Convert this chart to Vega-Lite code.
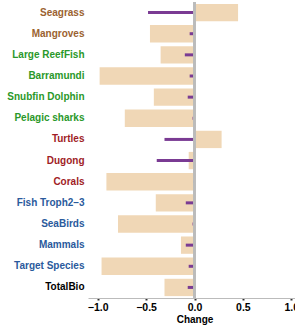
{
  "$schema": "https://vega.github.io/schema/vega-lite/v6.json",
  "autosize": "none",
  "width": 213,
  "height": 296,
  "padding": {"left": 88, "top": 2, "right": 0, "bottom": 29},
  "config": {
    "view": {"stroke": null},
    "font": "Liberation Sans",
    "axis": {"labelFont": "Liberation Sans", "titleFont": "Liberation Sans"}
  },
  "data": {
    "values": [
      {"item": "Seagrass", "change": 0.45, "other": -0.48},
      {"item": "Mangroves", "change": -0.46, "other": -0.05},
      {"item": "Large ReefFish", "change": -0.35, "other": -0.10},
      {"item": "Barramundi", "change": -0.98, "other": -0.05},
      {"item": "Snubfin Dolphin", "change": -0.42, "other": -0.07},
      {"item": "Pelagic sharks", "change": -0.72, "other": -0.02},
      {"item": "Turtles", "change": 0.28, "other": -0.31},
      {"item": "Dugong", "change": -0.06, "other": -0.39},
      {"item": "Corals", "change": -0.91, "other": -0.01},
      {"item": "Fish Troph2\u20133", "change": -0.40, "other": -0.09},
      {"item": "SeaBirds", "change": -0.79, "other": -0.02},
      {"item": "Mammals", "change": -0.14, "other": -0.09},
      {"item": "Target Species", "change": -0.96, "other": -0.06},
      {"item": "TotalBio", "change": -0.31, "other": -0.07}
    ]
  },
  "encoding": {
    "y": {
      "field": "item",
      "type": "nominal",
      "sort": null,
      "scale": {"paddingInner": 0.18, "paddingOuter": 0.09},
      "axis": {
        "title": null,
        "domain": false,
        "ticks": false,
        "labelFontSize": 10,
        "labelFontWeight": "bold",
        "labelPadding": 4,
        "labelColor": {
          "condition": [
            {"test": "indexof(['Seagrass','Mangroves'], datum.value) >= 0", "value": "#9b6230"},
            {"test": "indexof(['Large ReefFish','Barramundi','Snubfin Dolphin','Pelagic sharks'], datum.value) >= 0", "value": "#2a982a"},
            {"test": "indexof(['Turtles','Dugong','Corals'], datum.value) >= 0", "value": "#a01c26"},
            {"test": "indexof(['Fish Troph2\u20133','SeaBirds','Mammals','Target Species'], datum.value) >= 0", "value": "#2a5a9c"}
          ],
          "value": "#000000"
        }
      }
    }
  },
  "layer": [
    {
      "mark": {"type": "bar", "color": "#f0d7b6"},
      "encoding": {
        "x": {
          "field": "change",
          "type": "quantitative",
          "scale": {"domain": [-1.1, 1.1], "nice": false},
          "axis": {
            "title": "Change",
            "titleFontSize": 10,
            "titleFontWeight": "bold",
            "titleColor": "#000",
            "titlePadding": 2,
            "values": [-1, -0.5, 0, 0.5, 1],
            "format": ".1f",
            "grid": false,
            "domainColor": "#bbbbbb",
            "tickColor": "#333333",
            "tickSize": 2,
            "tickWidth": 2,
            "labelFontSize": 10.5,
            "labelFontWeight": "bold",
            "labelColor": "#000",
            "labelPadding": 2
          }
        },
        "x2": {"datum": 0}
      }
    },
    {
      "mark": {"type": "bar", "color": "#7a3b93", "size": 3},
      "encoding": {
        "x": {"field": "other", "type": "quantitative"},
        "x2": {"datum": 0}
      }
    },
    {
      "mark": {"type": "rule", "color": "#bbbbbb", "strokeWidth": 1.5},
      "encoding": {"x": {"datum": 0}, "y": {"value": 0}, "y2": {"value": 296}}
    }
  ]
}
